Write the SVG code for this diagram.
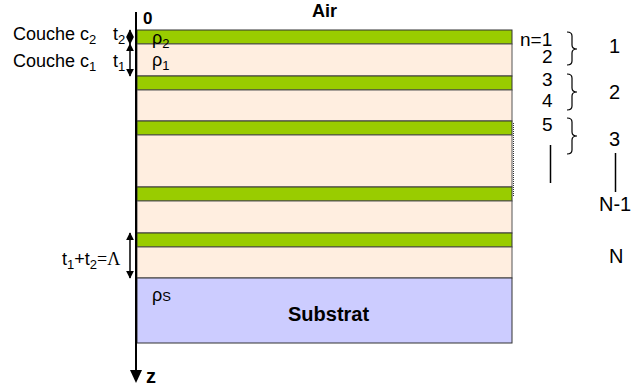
<svg xmlns="http://www.w3.org/2000/svg" width="633" height="389" viewBox="0 0 633 389">
  <style>
    .t { font-family: "Liberation Sans", Arial, sans-serif; fill: #000; }
    .b { font-weight: bold; }
    .c2 { fill: #99cc00; stroke: #333; stroke-width: 1; }
    .c1 { fill: #ffeee0; stroke: #555; stroke-width: 1; }
    .sub { fill: #ccccff; stroke: #333; stroke-width: 1; }
    .br { stroke: #000; stroke-width: 1.2; fill: none; }
    .dim { stroke: #000; stroke-width: 1.5; fill: none; }
  </style>
  <defs>
    <marker id="ah" viewBox="0 0 10 10" refX="9" refY="5" markerWidth="8" markerHeight="9" orient="auto-start-reverse" markerUnits="userSpaceOnUse">
      <path d="M0,0 L10,5 L0,10 z" fill="#000"/>
    </marker>
  </defs>
  <rect width="633" height="389" fill="#fff"/>

  <!-- layer stack -->
  <g id="stack">
    <rect class="c2" x="137" y="30" width="375" height="14"/>
    <rect class="c1" x="137" y="44" width="375" height="32"/>
    <rect class="c2" x="137" y="76" width="375" height="14"/>
    <rect class="c1" x="137" y="90" width="375" height="31"/>
    <rect class="c2" x="137" y="121" width="375" height="14"/>
    <rect class="c1" x="137" y="135" width="375" height="52"/>
    <rect class="c2" x="137" y="187" width="375" height="14"/>
    <rect class="c1" x="137" y="201" width="375" height="32"/>
    <rect class="c2" x="137" y="233" width="375" height="14"/>
    <rect class="c1" x="137" y="247" width="375" height="31"/>
    <line x1="513.5" y1="123" x2="513.5" y2="197" stroke="#333" stroke-width="1" stroke-dasharray="1 1"/>
  </g>
  <g id="substrat">
    <rect class="sub" x="137" y="278" width="375" height="65"/>
    <text class="t b" x="288" y="321" font-size="20">Substrat</text>
    <text class="t" x="152" y="301" font-size="18">ρ<tspan font-size="13">S</tspan></text>
  </g>

  <!-- depth axis -->
  <g id="axis">
    <line x1="136" y1="12" x2="136" y2="376" stroke="#000" stroke-width="2"/>
    <path d="M130,370 L142,370 L136,383 z" fill="#000"/>
    <text class="t b" x="143" y="24" font-size="17">0</text>
    <text class="t b" x="146" y="383" font-size="20">z</text>
    <text class="t b" x="312" y="17" font-size="18">Air</text>
  </g>

  <!-- thickness labels -->
  <g id="labels-left">
    <text class="t" x="13" y="40" font-size="18">Couche c<tspan font-size="13" dy="4">2</tspan></text>
    <text class="t" x="113" y="40" font-size="18">t<tspan font-size="13" dy="4">2</tspan></text>
    <text class="t" x="13" y="67" font-size="18">Couche c<tspan font-size="13" dy="4">1</tspan></text>
    <text class="t" x="113" y="67" font-size="18">t<tspan font-size="13" dy="4">1</tspan></text>
    <text class="t" x="152" y="44" font-size="18">ρ<tspan font-size="13" dy="4">2</tspan></text>
    <text class="t" x="152" y="66" font-size="18">ρ<tspan font-size="13" dy="4">1</tspan></text>
    <text class="t" x="62" y="265" font-size="18">t<tspan font-size="13" dy="4">1</tspan><tspan dy="-4">+t</tspan><tspan font-size="13" dy="4">2</tspan><tspan dy="-4" font-family="'Liberation Serif', serif">=Λ</tspan></text>
  </g>

  <g id="connectors">
    <line class="dim" x1="130" y1="30" x2="130" y2="44" marker-start="url(#ah)" marker-end="url(#ah)"/>
    <line class="dim" x1="130" y1="44" x2="130" y2="76" marker-start="url(#ah)" marker-end="url(#ah)"/>
    <line class="dim" x1="130" y1="233" x2="130" y2="278" marker-start="url(#ah)" marker-end="url(#ah)"/>
  </g>

  <!-- layer index -->
  <g id="labels-right">
    <text class="t" x="520" y="46" font-size="19">n=1</text>
    <text class="t" x="542" y="63" font-size="19">2</text>
    <text class="t" x="542" y="86" font-size="19">3</text>
    <text class="t" x="542" y="107" font-size="19">4</text>
    <text class="t" x="542" y="131" font-size="19">5</text>
    <line x1="550.5" y1="145" x2="550.5" y2="183" stroke="#000" stroke-width="1.5"/>
    <path class="br" d="M567,32 Q572,32 572,36 L572,45 Q572,49 577,49 Q572,49 572,53 L572,61 Q572,65 567,65"/>
    <path class="br" d="M567,74 Q572,74 572,78 L572,88 Q572,92 577,92 Q572,92 572,96 L572,106 Q572,110 567,110"/>
    <path class="br" d="M567,118 Q572,118 572,122 L572,132 Q572,136 577,136 Q572,136 572,140 L572,150 Q572,154 567,154"/>
    <text class="t" x="609" y="53" font-size="20">1</text>
    <text class="t" x="609" y="99" font-size="20">2</text>
    <text class="t" x="609" y="146" font-size="20">3</text>
    <line x1="615.5" y1="153" x2="615.5" y2="192" stroke="#000" stroke-width="1.5"/>
    <text class="t" x="599" y="211" font-size="20">N-1</text>
    <text class="t" x="609" y="263" font-size="20">N</text>
  </g>
</svg>
